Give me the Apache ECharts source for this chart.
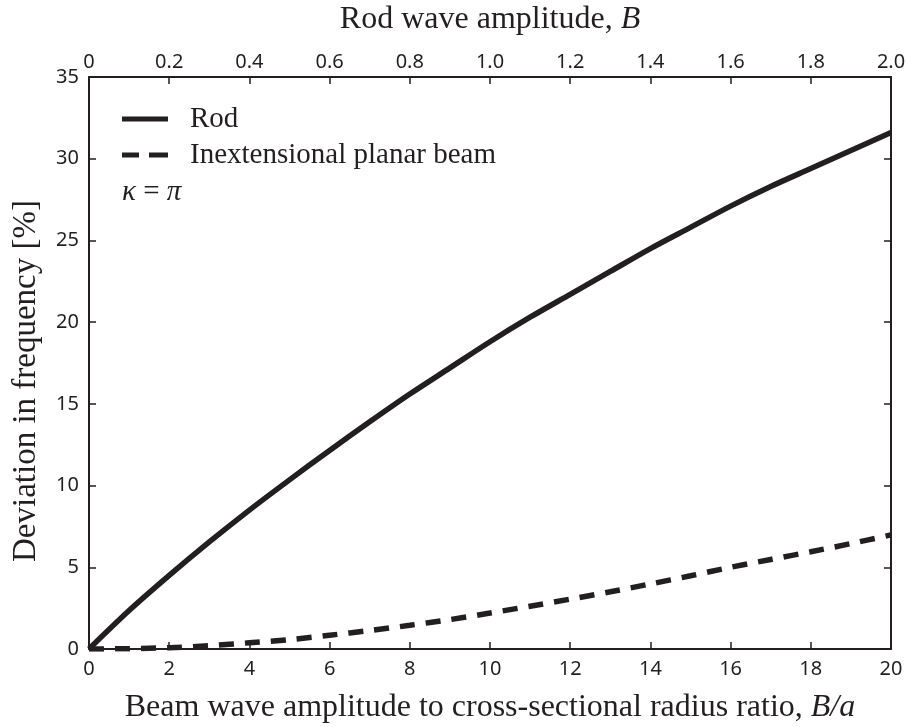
<!DOCTYPE html>
<html>
<head>
<meta charset="utf-8">
<script src="https://cdn.jsdelivr.net/npm/echarts@6/dist/echarts.min.js"></script>
<style>
html,body{margin:0;padding:0;background:#fff;}
#chart{width:907px;height:727px;}
</style>
</head>
<body>
<div id="chart"></div>
<script>
// Beam wave amplitude to cross-sectional radius ratio, B/a
var ratioB_a = [0,1,2,3,4,5,6,7,8,9,10,11,12,13,14,15,16,17,18,19,20];
// Rod deviation in frequency [%]
var rodDeviation = [0,2.35,4.5,6.55,8.5,10.35,12.15,13.9,15.6,17.2,18.8,20.3,21.7,23.1,24.5,25.8,27.1,28.3,29.4,30.5,31.6];
// Inextensional planar beam deviation in frequency [%]
var beamDeviation = [0,0.02,0.08,0.2,0.38,0.57,0.84,1.13,1.45,1.8,2.2,2.62,3.05,3.5,3.98,4.48,5.0,5.48,5.95,6.45,6.98];
var seriesNames = ['Rod','Inextensional planar beam'];

var ink = '#231f20';
var sans = '"Noto Sans", "Open Sans", sans-serif';
var serif = '"Liberation Serif", "DejaVu Serif", serif';

function pairs(xs, ys){ return xs.map(function(x,i){ return [x, ys[i]]; }); }
function tick(){ return {show:true, inside:true, length:7, lineStyle:{color:ink, width:1.5}}; }
function axLine(){ return {show:true, onZero:false, lineStyle:{color:ink, width:2}}; }
function lbl(extra){ var o = {color:ink, fontFamily:sans, fontSize:20}; for (var k in extra) o[k]=extra[k]; return o; }

var chart = echarts.init(document.getElementById('chart'), null, {renderer:'canvas'});

chart.setOption({
  animation:false,
  backgroundColor:'#fff',
  grid:{left:89, right:16, top:77, bottom:78, containLabel:false, outerBoundsMode:'none'},
  legend:{
    orient:'vertical', left:122, top:101, padding:0, itemWidth:46, itemHeight:5, itemGap:0,
    data:[
      {name:seriesNames[0], icon:'path://M0,0H46V5H0Z'},
      {name:seriesNames[1], icon:'path://M0,0H17V5H0Z M27,0H46V5H27Z'}
    ],
    itemStyle:{color:ink},
    textStyle:{fontFamily:serif, fontSize:29, color:ink, lineHeight:36, padding:[0,0,0,17]}
  },
  xAxis:[{
    type:'value', position:'bottom', min:0, max:20, interval:2,
    axisLine:axLine(), axisTick:tick(), splitLine:{show:false},
    axisLabel:lbl({margin:10}),
    name:'{n|Beam wave amplitude to cross-sectional radius ratio, }{i|B/a}',
    nameLocation:'middle', nameGap:43,
    nameTextStyle:{rich:{
      n:{fontFamily:serif, fontSize:32, color:ink},
      i:{fontFamily:serif, fontSize:32, color:ink, fontStyle:'italic'}
    }}
  },{
    type:'value', position:'top', min:0, max:2, interval:0.2,
    axisLine:axLine(), axisTick:tick(), splitLine:{show:false},
    axisLabel:lbl({margin:5, formatter:function(v){ return v===0?'0':v.toFixed(1); }}),
    name:'{n|Rod wave amplitude, }{i|B}',
    nameLocation:'middle', nameGap:41,
    nameTextStyle:{rich:{
      n:{fontFamily:serif, fontSize:32, color:ink},
      i:{fontFamily:serif, fontSize:32, color:ink, fontStyle:'italic'}
    }}
  }],
  yAxis:[{
    type:'value', position:'left', min:0, max:35, interval:5,
    axisLine:axLine(), axisTick:tick(), splitLine:{show:false},
    axisLabel:lbl({margin:10}),
    name:'Deviation in frequency [%]', nameLocation:'middle', nameGap:46,
    nameTextStyle:{fontFamily:serif, fontSize:33, color:ink, padding:[0,36,0,0]}
  },{
    type:'value', position:'right', min:0, max:35, interval:5,
    axisLine:axLine(), axisTick:tick(), splitLine:{show:false},
    axisLabel:{show:false}
  }],
  series:[{
    name:seriesNames[0], type:'line', xAxisIndex:0, yAxisIndex:0,
    data:pairs(ratioB_a, rodDeviation), smooth:0.3, symbol:'none',
    lineStyle:{color:ink, width:5.5}, itemStyle:{color:ink}
  },{
    name:seriesNames[1], type:'line', xAxisIndex:0, yAxisIndex:0,
    data:pairs(ratioB_a, beamDeviation), smooth:0.3, symbol:'none',
    lineStyle:{color:ink, width:5.5, type:[15,11]}, itemStyle:{color:ink}
  }],
  graphic:[{
    type:'text', left:122, top:178,
    style:{
      text:'{i|κ} = {i|π}',
      rich:{i:{fontFamily:serif, fontSize:29, fontStyle:'italic', fill:ink}},
      fontFamily:serif, fontSize:29, fill:ink
    }
  }]
});
</script>
</body>
</html>
